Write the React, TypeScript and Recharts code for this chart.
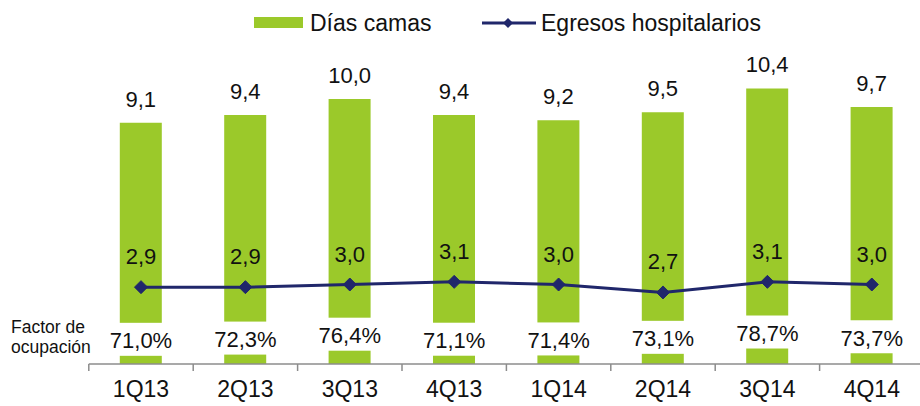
import * as React from 'react'
import { Bar, ComposedChart, LabelList, Line, XAxis, YAxis } from 'recharts'

const quarters = ['1Q13', '2Q13', '3Q13', '4Q13', '1Q14', '2Q14', '3Q14', '4Q14']
const diasCamas = [9.1, 9.4, 10.0, 9.4, 9.2, 9.5, 10.4, 9.7]
const egresos = [2.9, 2.9, 3.0, 3.1, 3.0, 2.7, 3.1, 3.0]
const ocupacion = [71.0, 72.3, 76.4, 71.1, 71.4, 73.1, 78.7, 73.7]

const data = quarters.map((q, i) => ({
  q,
  dias: diasCamas[i],
  egresos: egresos[i],
  ocupacion: ocupacion[i],
}))

const GREEN = '#9bc92a'
const NAVY = '#20276b'
const FONT = '"Liberation Sans", Arial, sans-serif'

const CHART_W = 930
const CHART_H = 406
const M_LEFT = 88.8
const M_TOP = 46
const PLOT_W = 835.2
const PLOT_BOTTOM = 364
const BAND = PLOT_W / quarters.length

const comma = (v: unknown, digits = 1) => Number(v).toFixed(digits).replace('.', ',')

function readBox(props: any) {
  const vb = props.viewBox || {}
  return {
    x: props.x ?? vb.x ?? 0,
    y: props.y ?? vb.y ?? 0,
    width: props.width ?? vb.width ?? 0,
  }
}

function Diamond(props: any) {
  const { cx, cy, index } = props
  if (cx == null || cy == null) return <g key={`d-${index}`} />
  const r = 6.5
  return (
    <path
      key={`d-${index}`}
      d={`M${cx},${cy - r} L${cx + r},${cy} L${cx},${cy + r} L${cx - r},${cy} Z`}
      fill={NAVY}
      stroke={NAVY}
    />
  )
}

// occupancy % sits in a white box that cuts through the bar
function OcupacionLabel(props: any) {
  const { x, y } = readBox(props)
  return (
    <g>
      <rect x={x - 36} y={y - 16.5} width={72} height={33} fill="#fff" />
      <text
        x={x}
        y={y + 1.5}
        textAnchor="middle"
        dominantBaseline="central"
        fontSize={22}
        fontFamily={FONT}
        fill="#111"
      >
        {`${comma(props.value)}%`}
      </text>
    </g>
  )
}

function QuarterTick(props: any) {
  const { x, payload } = props
  const left = x - BAND / 2
  return (
    <g>
      <line x1={left} x2={left} y1={PLOT_BOTTOM} y2={PLOT_BOTTOM + 7} stroke="#8c8c8c" strokeWidth={1.5} />
      <text
        x={x}
        y={PLOT_BOTTOM + 25}
        textAnchor="middle"
        dominantBaseline="central"
        fontSize={23}
        fontFamily={FONT}
        fill="#111"
      >
        {payload.value}
      </text>
    </g>
  )
}

export default function App() {
  return (
    <div
      style={{
        position: 'fixed',
        left: 0,
        top: 0,
        width: 920,
        height: 406,
        overflow: 'hidden',
        background: '#fff',
        fontFamily: FONT,
      }}
    >
      {/* legend */}
      <div style={{ position: 'absolute', left: 254, top: 17, width: 49, height: 11, background: GREEN }} />
      <div style={{ position: 'absolute', left: 310, top: 8, fontSize: 23, lineHeight: '30px', color: '#111' }}>
        Días camas
      </div>
      <svg style={{ position: 'absolute', left: 480, top: 14 }} width={58} height={18}>
        <line x1={2} x2={56} y1={9} y2={9} stroke={NAVY} strokeWidth={3} />
        <path d="M28,4 L33,9 L28,14 L23,9 Z" fill={NAVY} />
      </svg>
      <div style={{ position: 'absolute', left: 541, top: 8, fontSize: 23, lineHeight: '30px', color: '#111' }}>
        Egresos hospitalarios
      </div>

      {/* row label */}
      <div
        style={{
          position: 'absolute',
          left: 11,
          top: 317,
          fontSize: 17.5,
          lineHeight: '20px',
          color: '#111',
        }}
      >
        Factor de
        <br />
        ocupación
      </div>

      <ComposedChart
        width={CHART_W}
        height={CHART_H}
        data={data}
        margin={{ top: M_TOP, right: CHART_W - M_LEFT - PLOT_W, bottom: CHART_H - PLOT_BOTTOM - 30, left: M_LEFT }}
      >
        <XAxis
          dataKey="q"
          height={30}
          tickLine={false}
          axisLine={{ stroke: '#8c8c8c', strokeWidth: 1.5 }}
          tick={<QuarterTick />}
          interval={0}
        />
        <YAxis yAxisId="left" hide domain={[0, 12]} />
        <YAxis yAxisId="occ" hide domain={[45, 380]} />
        <Bar yAxisId="left" dataKey="dias" fill={GREEN} barSize={42} isAnimationActive={false}>
          <LabelList
            dataKey="dias"
            position="top"
            offset={16}
            fontSize={22}
            fontFamily={FONT}
            fill="#111"
            formatter={(v: any) => comma(v)}
          />
        </Bar>
        <Line
          yAxisId="left"
          dataKey="egresos"
          stroke={NAVY}
          strokeWidth={3}
          dot={<Diamond />}
          activeDot={false}
          isAnimationActive={false}
        >
          <LabelList
            dataKey="egresos"
            position="top"
            offset={23}
            fontSize={22}
            fontFamily={FONT}
            fill="#111"
            formatter={(v: any) => comma(v)}
          />
        </Line>
        <Line
          yAxisId="occ"
          dataKey="ocupacion"
          stroke="none"
          dot={false}
          activeDot={false}
          isAnimationActive={false}
        >
          <LabelList dataKey="ocupacion" content={<OcupacionLabel />} />
        </Line>
      </ComposedChart>
    </div>
  )
}
